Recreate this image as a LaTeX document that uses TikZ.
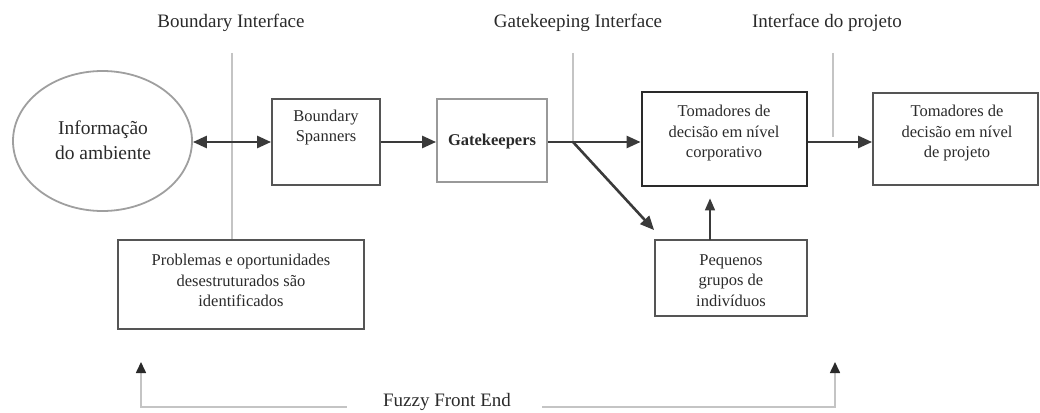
\documentclass[tikz,border=0pt]{standalone}
\usepackage{fontspec}
\setmainfont{Liberation Serif}
\usetikzlibrary{arrows.meta,shapes.geometric}
\definecolor{ink}{HTML}{2A2A2A}
\definecolor{lineg}{HTML}{3A3A3A}
\definecolor{boxg}{HTML}{555555}
\definecolor{pale}{HTML}{C4C4C4}
\tikzset{
  title/.style={font=\fontsize{19}{23}\selectfont, text=ink, inner sep=0pt},
  boxtxt/.style={font=\fontsize{16.5}{20.5}\selectfont, text=ink, align=center, inner sep=0pt},
  frame/.style={draw=boxg, line width=1.8pt, inner sep=0pt},
  flow/.style={draw=lineg, line width=2.6pt, -{Triangle[length=14pt,width=12pt]}},
  iface/.style={draw=pale, line width=1.3pt},
  fuzzy/.style={draw=pale, line width=1.6pt},
  tip/.style={-{Triangle[length=11pt,width=10pt,color=ink]}}
}
\begin{document}
\begin{tikzpicture}[x=1pt,y=-1pt]
\useasboundingbox (0,0) rectangle (1040,412);
% titles
\node[title] (t1) at (231,23) {Boundary Interface};
\node[title] (t2) at (578,23) {Gatekeeping Interface};
\node[title] (t3) at (827,23) {Interface do projeto};
\node[title] (fz) at (447,402) {Fuzzy Front End};
% shapes
\node[ellipse, draw=gray!75, line width=1.8pt, minimum width=179pt, minimum height=140pt, inner sep=0pt] (info) at (102.5,141) {};
\node[title, align=center, font=\fontsize{19.5}{24.5}\selectfont] (infot) at (103,140) {Informação\\do ambiente};
\node[frame, minimum width=108pt, minimum height=86pt] (bs) at (326,142) {};
\node[boxtxt] (bst) at (326,127.5) {Boundary\\Spanners};
\node[frame, draw=gray!80, minimum width=110pt, minimum height=83pt] (gk) at (492,140.5) {};
\node[boxtxt, font=\bfseries\fontsize{16.5}{20.5}\selectfont] (gkt) at (492,142) {Gatekeepers};
\node[frame, draw=ink, line width=2.8pt, minimum width=165pt, minimum height=94pt] (corp) at (724.5,139) {};
\node[boxtxt] (corpt) at (724,133.5) {Tomadores de\\decisão em nível\\corporativo};
\node[frame, minimum width=165pt, minimum height=92pt] (proj) at (955.5,139) {};
\node[boxtxt] (projt) at (957,133.5) {Tomadores de\\decisão em nível\\de projeto};
\node[frame, minimum width=246pt, minimum height=89pt] (prob) at (241,284.5) {};
\node[boxtxt] (probt) at (241,280.5) {Problemas e oportunidades\\desestruturados são\\identificados};
\node[frame, minimum width=152pt, minimum height=76pt] (peq) at (731,278) {};
\node[boxtxt] (peqt) at (731,280.5) {Pequenos\\grupos de\\indivíduos};
% interface lines
\coordinate (b1) at (232,53);
\coordinate (b2) at (573,53);
\coordinate (b3) at (833,53);
\coordinate (split) at (573,142);
\draw[iface] (b1) -- (b1 |- prob.north);
\draw[iface] (b2) -- (split);
\draw[iface] (b3) -- (833,137);
% flow arrows
\draw[flow, {Triangle[length=14pt,width=12pt]}-{Triangle[length=14pt,width=12pt]}] (info.east |- bs.west) -- (bs.west);
\draw[flow] (bs.east) -- (gk.west |- bs.east);
\draw[flow] (gk.east |- split) -- (corp.west |- split);
\draw[flow] (split) -- ([yshift=9pt]peq.north west);
\coordinate (pu) at (710,240);
\draw[flow, line width=1.6pt, -{Triangle[length=12pt,width=10pt]}, shorten >=11pt] (pu) -- (pu |- corp.south);
\draw[flow] (corp.east |- split) -- (proj.west |- split);
% fuzzy front end
\coordinate (fl) at (141,407);
\coordinate (fr) at (835,407);
\draw[fuzzy, tip] (fz.west |- fl) ++(-36,0) -- (fl) -- (141,362);
\draw[fuzzy, tip] (fz.east |- fr) ++(31,0) -- (fr) -- (835,362);
\end{tikzpicture}
\end{document}
